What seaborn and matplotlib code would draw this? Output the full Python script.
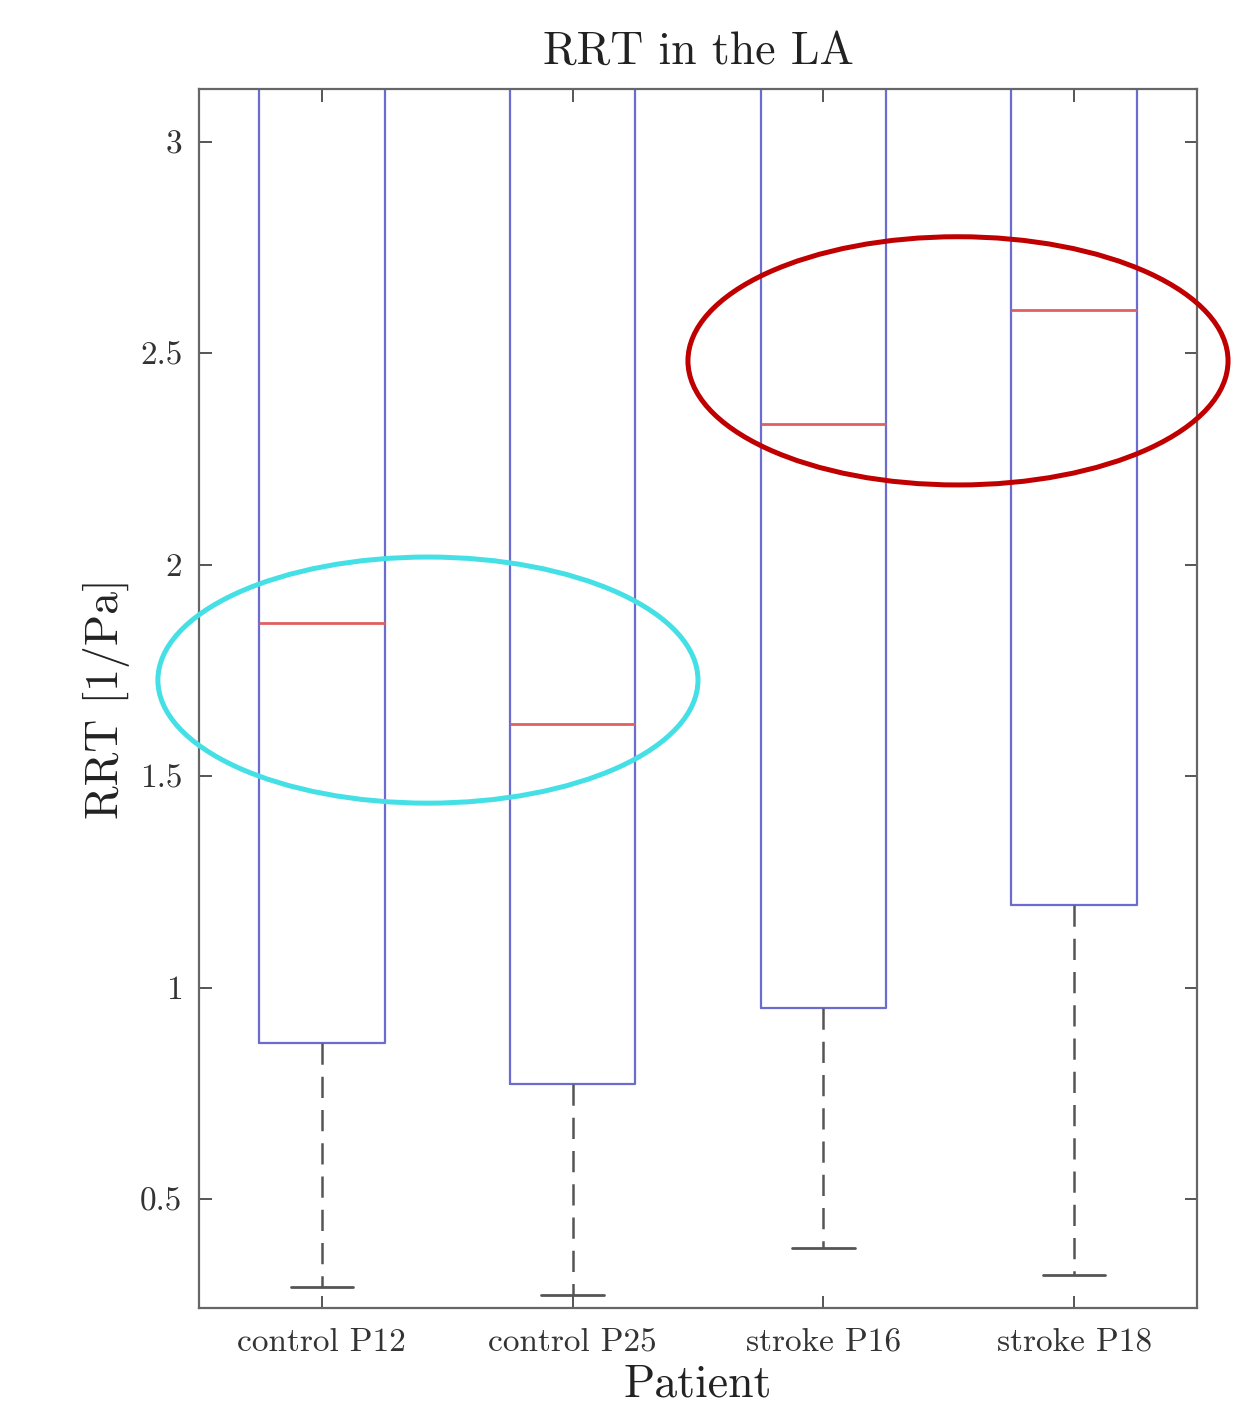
import numpy as np
import pandas as pd
import matplotlib
matplotlib.use("Agg")
import matplotlib.pyplot as plt
from matplotlib.patches import Ellipse
import seaborn as sns

# Five-number summaries per patient: lower whisker, Q1, median, Q3, upper whisker
patients = ["control P12", "control P25", "stroke P16", "stroke P18"]
lower_whisker = [0.291, 0.274, 0.385, 0.319]
q1 = [0.868, 0.771, 0.951, 1.195]
median = [1.862, 1.623, 2.333, 2.602]
q3 = [4.20, 4.05, 4.60, 4.90]
upper_whisker = [7.40, 7.10, 8.20, 8.80]

# Highlight groups (data coordinates: x centre, y centre, width, height)
highlight_centers_x = [1.423, 3.537]
highlight_centers_y = [1.727, 2.482]
highlight_widths = [2.154, 2.154]
highlight_heights = [0.582, 0.587]
highlight_colors = ["#45e0e6", "#c00000"]

rows = []
for name, a, b, c, d, e in zip(patients, lower_whisker, q1, median, q3, upper_whisker):
    for v in (a, b, c, d, e):
        rows.append({"Patient": name, "RRT": v})
df = pd.DataFrame(rows)

sns.set_style("ticks")
plt.rcParams["font.family"] = ["cmr10", "DejaVu Serif"]
plt.rcParams["axes.formatter.use_mathtext"] = True
plt.rcParams["mathtext.fontset"] = "cm"

fig = plt.figure(figsize=(12.54, 14.05), dpi=100)
ax = fig.add_axes([0.1587, 0.0690, 0.7958, 0.8677])

box_color = "#6c6cd0"
sns.boxplot(
    data=df, x="Patient", y="RRT", ax=ax, width=0.5, whis=1.5,
    fill=False, showfliers=False,
    boxprops=dict(color=box_color, linewidth=1.6),
    whiskerprops=dict(color="#555555", linewidth=1.8, linestyle=(0, (8.5, 4.8))),
    capprops=dict(color="#555555", linewidth=2.0),
    medianprops=dict(color="#e06060", linewidth=2.0),
)

ax.set_xlim(-0.49, 3.49)
ax.set_ylim(0.242, 3.125)
ax.set_yticks([0.5, 1, 1.5, 2, 2.5, 3])
ax.set_yticklabels(["0.5", "1", "1.5", "2", "2.5", "3"])

for s in ax.spines.values():
    s.set_visible(True)
    s.set_color("#666666")
    s.set_linewidth(1.6)

ax.tick_params(axis="both", which="both", direction="in", length=9, width=1.4,
               color="#555555", top=True, right=True, labelsize=24,
               labelcolor="#333333", pad=12)
ax.tick_params(axis="x", pad=14)

ax.set_title("RRT in the LA", fontsize=33, color="#222222", pad=18)
ax.set_xlabel("Patient", fontsize=33, color="#222222", labelpad=5)
ax.set_ylabel("RRT [1/Pa]", fontsize=33, color="#222222", labelpad=7)

for cx, cy, w, h, col in zip(highlight_centers_x, highlight_centers_y,
                             highlight_widths, highlight_heights, highlight_colors):
    ax.add_patch(Ellipse((cx - 1, cy), w, h, fill=False, edgecolor=col,
                         linewidth=3.6, clip_on=False, zorder=5))

fig.savefig("out.png", dpi=100, facecolor="white")
